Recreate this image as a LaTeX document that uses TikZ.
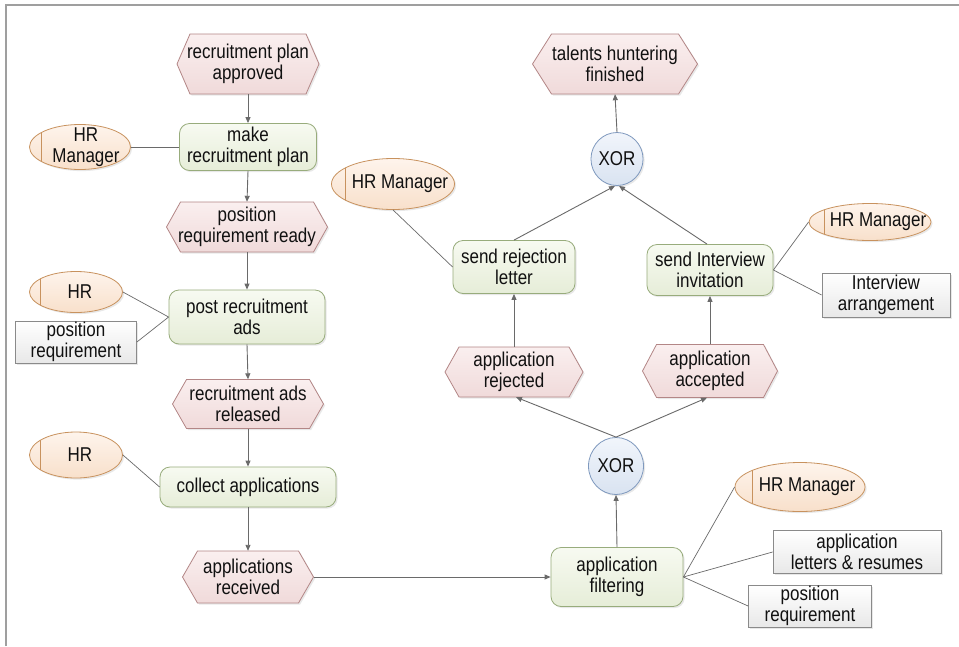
\documentclass[tikz,border=0pt]{standalone}
\usepackage{fontspec}
\setmainfont{Liberation Sans}[FakeStretch=0.85]
\usetikzlibrary{shapes.geometric,arrows.meta,shadows}

\definecolor{evline}{HTML}{B38686}
\definecolor{evtop}{HTML}{FAEFEF}
\definecolor{evbot}{HTML}{F0DADA}
\definecolor{fnline}{HTML}{98AC7C}
\definecolor{fntop}{HTML}{F7FAF1}
\definecolor{fnbot}{HTML}{E6EDD8}
\definecolor{orgline}{HTML}{C8925E}
\definecolor{orgtop}{HTML}{FEF4EC}
\definecolor{orgbot}{HTML}{F8E0CB}
\definecolor{opline}{HTML}{7F99BE}
\definecolor{optop}{HTML}{F1F5FB}
\definecolor{opbot}{HTML}{D9E3F1}
\definecolor{infline}{HTML}{8A8A8A}
\definecolor{inftop}{HTML}{FFFFFF}
\definecolor{infbot}{HTML}{E8E8E8}
\definecolor{conn}{HTML}{6A6A6A}
\definecolor{ink}{HTML}{111111}

\tikzset{
  txt/.style={align=center, inner sep=0pt, text=ink,
              font=\fontsize{20}{21}\selectfont},
  softshadow/.style={drop shadow={opacity=0.18, shadow xshift=1.6pt, shadow yshift=-1.6pt}},
  eventshape/.style={draw=evline, line width=0.8pt, top color=evtop, bottom color=evbot, softshadow},
  function/.style={txt, rectangle, rounded corners=10pt, draw=fnline, line width=0.8pt,
                   top color=fntop, bottom color=fnbot, softshadow},
  orgunit/.style={ellipse, inner sep=0pt, draw=orgline, line width=0.8pt,
                  top color=orgtop, bottom color=orgbot, softshadow},
  infobj/.style={txt, rectangle, draw=infline, line width=0.8pt,
                 top color=inftop, bottom color=infbot, softshadow},
  xorop/.style={txt, ellipse, draw=opline, line width=0.8pt,
                top color=optop, bottom color=opbot, softshadow},
  flow/.style={draw=conn, line width=0.9pt, -{Triangle[length=6pt,width=5pt]}},
  assoc/.style={draw=conn, line width=0.7pt},
}

% event: name, x, y, width, height, tip depth, text
\newcommand\eventbox[7]{%
  \path[eventshape] (#2-#4/2,#3) -- (#2-#4/2+#6,#3-#5/2) -- (#2+#4/2-#6,#3-#5/2)
     -- (#2+#4/2,#3) -- (#2+#4/2-#6,#3+#5/2) -- (#2-#4/2+#6,#3+#5/2) -- cycle;
  \node[txt, minimum width=#4, minimum height=#5] (#1) at (#2,#3) {#7};
}
% organisational unit: name, x, y, width, height, bar offset, text shift, text
\newcommand\orgbox[8]{%
  \node[orgunit, minimum width=#4, minimum height=#5] (#1) at (#2,#3) {};
  \begin{scope}
    \clip (#2,#3) ellipse [x radius=#4/2, y radius=#5/2];
    \draw[orgline, line width=0.8pt] (#2-#4/2+#6,#3-#5/2) -- (#2-#4/2+#6,#3+#5/2);
  \end{scope}
  \node[txt] (#1-t) at (#2+#7,#3) {#8};
}

\begin{document}
\begin{tikzpicture}[x=1pt, y=-1pt]
  \useasboundingbox (0,0) rectangle (959,646);
  \fill[white] (0,0) rectangle (959,646);

  % frame
  \draw[gray!75, line width=1.2pt] (6,646) -- (6,5) -- (959,5);

  % events
  \eventbox{rpa}{248}{64}{142}{60}{13}{recruitment plan\\approved}
  \eventbox{prr}{247}{227}{161}{50}{14}{position\\requirement ready}
  \eventbox{rar}{248}{404}{151}{49}{14}{recruitment ads\\released}
  \eventbox{apr}{248}{577}{131}{52}{15}{applications\\received}
  \eventbox{rej}{514}{372}{138}{50}{14}{application\\rejected}
  \eventbox{acc}{710}{371}{135}{53}{14}{application\\accepted}
  \eventbox{thf}{615}{64}{165}{60}{19}{talents huntering\\finished}

  % functions
  \node[function, minimum width=137, minimum height=47] (mrp) at (248,147) {make\\recruitment plan};
  \node[function, minimum width=156, minimum height=54] (pra) at (247,317) {post recruitment\\ads};
  \node[function, minimum width=176, minimum height=40] (ca)  at (248,487) {collect applications};
  \node[function, minimum width=132, minimum height=59] (af)  at (617,577) {application\\filtering};
  \node[function, minimum width=122, minimum height=53] (srl) at (514,267) {send rejection\\letter};
  \node[function, minimum width=126, minimum height=51] (sii) at (710,270) {send Interview\\invitation};

  % operators
  \node[xorop, minimum width=55, minimum height=57] (x1) at (616,466) {XOR};
  \node[xorop, minimum width=52, minimum height=53] (x2) at (617,159) {XOR};

  % organisational units
  \orgbox{hr1}{80}{147}{101}{45}{12}{6}{HR\\Manager}
  \orgbox{hr2}{76}{292}{93}{41}{11}{4}{HR}
  \orgbox{hr3}{76}{455}{93}{46}{11}{4}{HR}
  \orgbox{hr4}{393}{184}{123}{51}{14}{7}{HR Manager}
  \orgbox{hr5}{870}{222}{122}{37}{15}{8}{HR Manager}
  \orgbox{hr6}{800}{487}{130}{49}{17}{7}{HR Manager}

  % information objects
  \node[infobj, minimum width=121, minimum height=42] (doc1) at (76,342)  {position\\requirement};
  \node[infobj, minimum width=128, minimum height=44] (doc2) at (886,295) {Interview\\arrangement};
  \node[infobj, minimum width=168, minimum height=43] (doc3) at (857,552) {application\\letters \& resumes};
  \node[infobj, minimum width=123, minimum height=42] (doc4) at (810,606) {position\\requirement};

  % control flow
  \draw[flow] (rpa.south) -- (mrp.north);
  \draw[flow] (mrp.south) -- (prr.north);
  \draw[flow] (prr.south) -- (pra.north);
  \draw[flow] (pra.south) -- (rar.north);
  \draw[flow] (rar.south) -- (ca.north);
  \draw[flow] (ca.south) -- (apr.north);
  \draw[flow] (apr.east) -- (af.west);
  \draw[flow] (af.north) -- (x1.south);
  \draw[flow] (x1.north) -- ([xshift=2pt]rej.south);
  \draw[flow] (x1.north) -- ([xshift=-3pt]acc.south);
  \draw[flow] (rej.north) -- (srl.south);
  \draw[flow] (acc.north) -- (sii.south);
  \draw[flow] (srl.north) -- ([xshift=-2pt]x2.south);
  \draw[flow] ([xshift=-3pt]sii.north) -- ([xshift=2pt]x2.south);
  \draw[flow] (x2.north) -- (thf.south);

  % associations
  \draw[assoc] (hr1.east) -- (mrp.west);
  \draw[assoc] (hr2.east) -- (pra.west);
  \draw[assoc] (doc1.east) -- (pra.west);
  \draw[assoc] (hr3.east) -- (ca.west);
  \draw[assoc] (hr4.south) -- (srl.west);
  \draw[assoc] (sii.east) -- (hr5.west);
  \draw[assoc] (sii.east) -- (doc2.west);
  \draw[assoc] (af.east) -- (hr6.west);
  \draw[assoc] (af.east) -- (doc3.west);
  \draw[assoc] (af.east) -- (doc4.west);
\end{tikzpicture}
\end{document}
